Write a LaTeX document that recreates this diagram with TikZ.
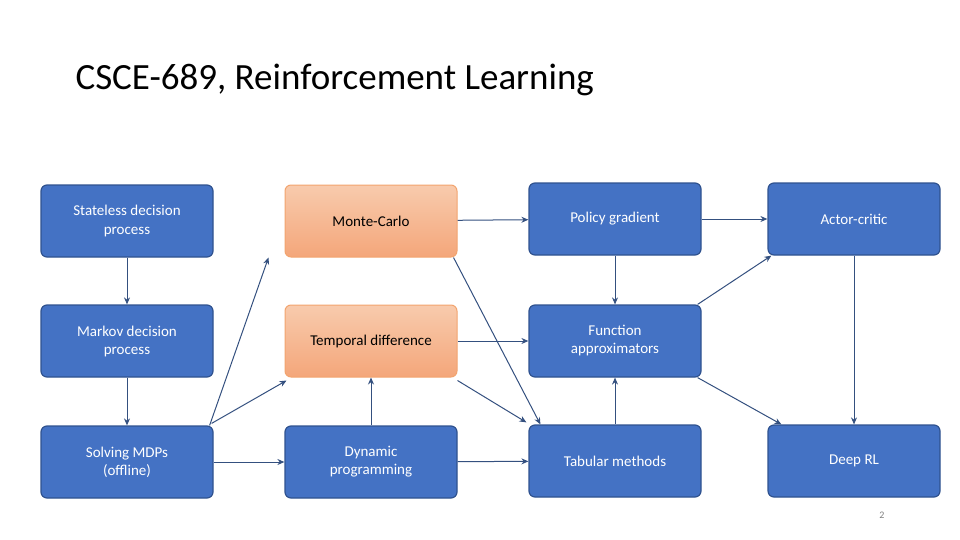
\documentclass[tikz,border=0pt]{standalone}
\usepackage{fontspec}
\setmainfont{Carlito}
\usetikzlibrary{arrows.meta}
\definecolor{bfill}{HTML}{4472C4}
\definecolor{bdraw}{HTML}{2F528F}
\definecolor{otop}{HTML}{F8CBAD}
\definecolor{obot}{HTML}{F4A67A}
\definecolor{odraw}{HTML}{ED7D31}
\definecolor{arr}{HTML}{34507F}
\begin{document}
\begin{tikzpicture}[x=1pt,y=-1pt,
 bbox/.style={rounded corners=6pt,minimum width=172pt,minimum height=72pt,align=center,font=\fontsize{15}{18}\selectfont,inner sep=2pt},
 blue/.style={bbox,fill=bfill,draw=bdraw,line width=1.2pt,text=white},
 orng/.style={bbox,top color=otop,bottom color=obot,draw=odraw!70,line width=1pt,text=black},
 ar/.style={draw=arr,line width=1pt,-{Stealth[length=7pt,width=6pt]}}]
\useasboundingbox (0,0) rectangle (960,540);
\node[anchor=west,font=\fontsize{37}{40}\selectfont\addfontfeatures{}] (t) at (72,80) {CSCE-689, Reinforcement Learning};
\node[blue] (s1) at (127,221) {Stateless decision\\process};
\node[blue] (m1) at (127,341) {Markov decision\\process};
\node[blue] (so) at (127,462) {Solving MDPs\\(offline)};
\node[orng] (mc) at (371,221) {Monte-Carlo};
\node[orng] (td) at (371,341) {Temporal difference};
\node[blue] (dp) at (371,462) {Dynamic\\programming};
\node[blue] (pg) at (615,219) {Policy gradient};
\node[blue] (fa) at (615,341) {Function\\approximators};
\node[blue] (tm) at (615,461) {Tabular methods};
\node[blue] (ac) at (854,219) {Actor-critic};
\node[blue] (dr) at (854,461) {Deep RL};
\node[font=\fontsize{10}{12}\selectfont,text=gray] (pn) at (882,515) {2};
\draw[ar] (s1) -- (m1);
\draw[ar] (m1) -- (so);
\draw[ar] (so) -- (dp);
\draw[ar] ([xshift=-4pt]so.north east) -- ([xshift=-16pt]mc.south west);
\draw[ar] ([xshift=-2pt,yshift=2pt]so.north east) -- ([xshift=2pt,yshift=-3pt]td.south west);
\draw[ar] (dp) -- (td);
\draw[ar] (mc) -- (pg);
\draw[ar] (td) -- (fa);
\draw[ar] ([xshift=-4pt]mc.south east) -- ([xshift=12pt]tm.north west);
\draw[ar] ([yshift=-3pt]td.south east) -- ([xshift=-2pt,yshift=2pt]tm.north west);
\draw[ar] (dp) -- (tm);
\draw[ar] (pg) -- (fa);
\draw[ar] (tm) -- (fa);
\draw[ar] (pg) -- (ac);
\draw[ar] ([xshift=-4pt]fa.north east) -- ([xshift=4pt]ac.south west);
\draw[ar] ([xshift=-4pt]fa.south east) -- ([xshift=14pt]dr.north west);
\draw[ar] (ac) -- (dr);
\end{tikzpicture}
\end{document}
